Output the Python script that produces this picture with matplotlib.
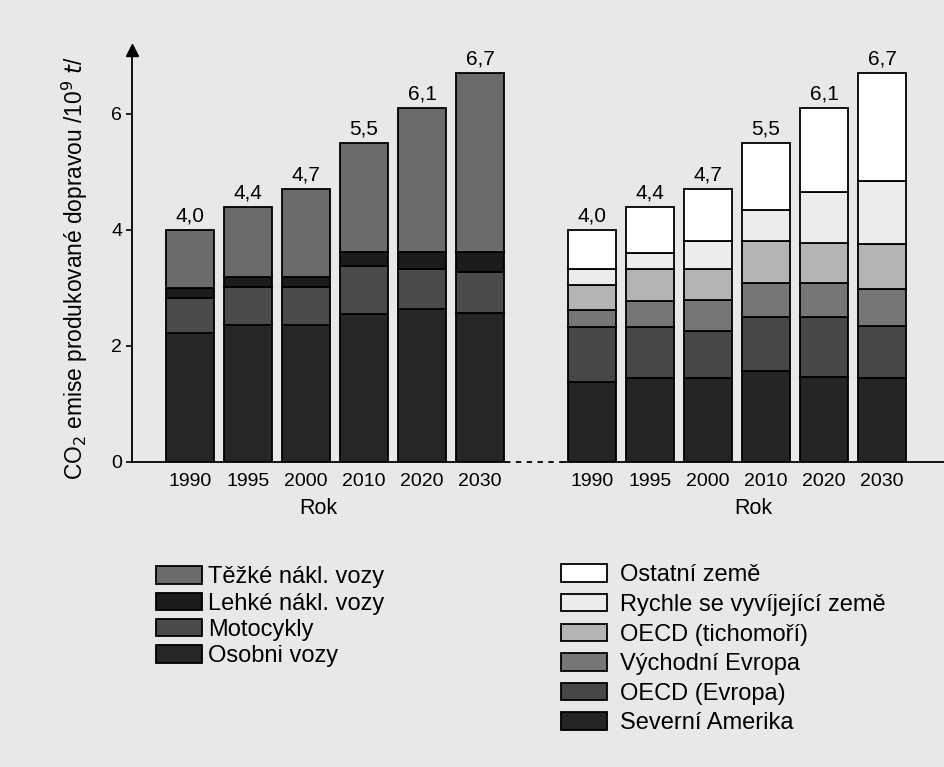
import matplotlib.pyplot as plt
import numpy as np
from matplotlib.lines import Line2D

plt.rcParams['font.family'] = ['Liberation Sans', 'DejaVu Sans']

roky = ["1990", "1995", "2000", "2010", "2020", "2030"]
celkem = ["4,0", "4,4", "4,7", "5,5", "6,1", "6,7"]

# podle druhu vozidel (odspodu)
osobni = [2.22, 2.36, 2.36, 2.55, 2.63, 2.57]
motocykly = [0.60, 0.66, 0.66, 0.82, 0.69, 0.71]
lehke = [0.17, 0.17, 0.17, 0.25, 0.30, 0.34]
tezke = [1.01, 1.21, 1.51, 1.88, 2.48, 3.08]

# podle regionu (odspodu)
sev_amerika = [1.37, 1.44, 1.44, 1.56, 1.47, 1.45]
oecd_evropa = [0.95, 0.88, 0.82, 0.93, 1.02, 0.89]
vych_evropa = [0.30, 0.45, 0.53, 0.59, 0.59, 0.64]
oecd_tich = [0.43, 0.56, 0.54, 0.72, 0.69, 0.77]
rychle = [0.27, 0.28, 0.47, 0.55, 0.89, 1.09]
ostatni = [0.68, 0.79, 0.90, 1.15, 1.44, 1.86]

W, H = 944, 767
fig = plt.figure(figsize=(W / 100, H / 100), dpi=100, facecolor='#e8e8e8')

y0 = 461.7
ytop = 50
ax1 = fig.add_axes([132 / W, 1 - y0 / H, (505 - 132) / W, (y0 - ytop) / H])
ax2 = fig.add_axes([563 / W, 1 - y0 / H, (944 - 563) / W, (y0 - ytop) / H])

x = np.arange(len(roky))
bw = 0.82


def stack(ax, series, colors):
    bottom = np.zeros(len(roky))
    bars = []
    for vals, c in zip(series, colors):
        b = ax.bar(x, vals, bw, bottom=bottom, color=c, edgecolor='black', linewidth=1.3)
        bars.append(b)
        bottom = bottom + np.array(vals)
    for xi, tot, lab in zip(x, bottom, celkem):
        ax.text(xi, tot + 0.08, lab, ha='center', va='bottom', fontsize=15)
    return bars


bars1 = stack(ax1, [osobni, motocykly, lehke, tezke],
              ['#262626', '#4b4b4b', '#1c1c1c', '#6b6b6b'])
bars2 = stack(ax2, [sev_amerika, oecd_evropa, vych_evropa, oecd_tich, rychle, ostatni],
              ['#252525', '#474747', '#767676', '#b4b4b4', '#ececec', '#ffffff'])

ymax = (y0 - ytop) / 57.95
for ax in (ax1, ax2):
    ax.set_facecolor('none')
    ax.set_ylim(0, ymax)
    ax.set_xticks(x)
    ax.set_xticklabels(roky, fontsize=14)
    ax.tick_params(axis='x', length=0, pad=8)
    ax.set_xlabel("Rok", fontsize=15.5, labelpad=6)
    for s in ['top', 'right']:
        ax.spines[s].set_visible(False)
    ax.spines['bottom'].set_linewidth(1.3)

ax1.set_xlim(-1.0, 5.43)
ax2.set_xlim(-0.5, 6.07)

ax1.spines['left'].set_linewidth(1.3)
ax1.set_yticks([0, 2, 4, 6])
ax1.set_yticklabels(["0", "2", "4", "6"], fontsize=14)
ax1.tick_params(axis='y', length=4, width=1.2, pad=3)
ax1.plot(0, 1, marker='^', color='black', markersize=8, transform=ax1.transAxes, clip_on=False)

ax2.spines['left'].set_visible(False)
ax2.set_yticks([])

# preruseni osy mezi grafy
fig.add_artist(Line2D([505 / W, 563 / W], [1 - y0 / H, 1 - y0 / H], color='black',
                      linewidth=1.3, linestyle=(0, (3, 3))))

fig.text(75 / W, 1 - 268 / H, r"CO$_2$ emise produkované dopravou /10$^9$ $t$/",
         rotation=90, ha='center', va='center', fontsize=16.4)

leg_kw = dict(frameon=False, fontsize=17, handlelength=1.95, handleheight=0.76,
              borderaxespad=0)
fig.legend([bars1[3], bars1[2], bars1[1], bars1[0]],
           ["Těžké nákl. vozy", "Lehké nákl. vozy", "Motocykly", "Osobni vozy"],
           loc='upper left', bbox_to_anchor=(147 / W, 1 - 557 / H),
           labelspacing=0.18, handletextpad=0.25, **leg_kw)
fig.legend([bars2[5], bars2[4], bars2[3], bars2[2], bars2[1], bars2[0]],
           ["Ostatní země", "Rychle se vyvíjející země", "OECD (tichomoří)",
            "Východní Evropa", "OECD (Evropa)", "Severní Amerika"],
           loc='upper left', bbox_to_anchor=(552 / W, 1 - 555 / H),
           labelspacing=0.32, handletextpad=0.55, **leg_kw)

fig.savefig("out.png", dpi=100, facecolor=fig.get_facecolor())
